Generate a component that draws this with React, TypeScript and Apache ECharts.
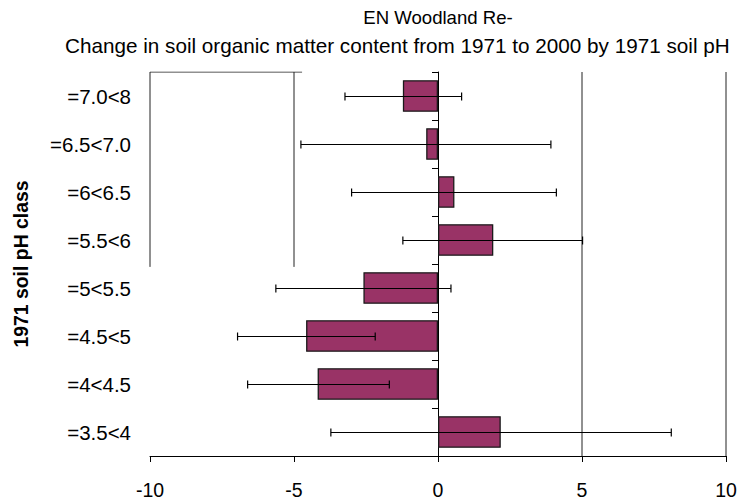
import React, { useEffect, useRef } from "react";
import * as echarts from "echarts";

const categories = ["=3.5<4", "=4<4.5", "=4.5<5", "=5<5.5", "=5.5<6", "=6<6.5", "=6.5<7.0", "=7.0<8"];
const meanChange = [2.18, -4.18, -4.58, -2.59, 1.92, 0.57, -0.41, -1.22];
const lowBound = [-3.72, -6.61, -6.96, -5.63, -1.22, -3.0, -4.76, -3.23];
const highBound = [8.1, -1.69, -2.18, 0.45, 5.02, 4.11, 3.92, 0.82];
const xTicks = [-10, -5, 0, 5, 10];
const titleLine1 = "EN Woodland Re-";
const titleLine2 = "Change in soil organic matter content from 1971 to 2000 by 1971 soil pH";
const yAxisTitle = "1971 soil pH class";

const FONT = "'Liberation Sans', Arial, sans-serif";

export default function App() {
  const ref = useRef<HTMLDivElement>(null);
  useEffect(() => {
    if (!ref.current) return;
    const chart = echarts.init(ref.current, null, { renderer: "svg" });
    const errData = categories.map((_, i) => [lowBound[i], highBound[i], i]);
    const gridLineStyle = { color: "#222", width: 1 };
    const lineSeries = (data: number[][]) => ({
      type: "line",
      xAxisIndex: 0,
      yAxisIndex: 2,
      data,
      symbol: "none",
      silent: true,
      lineStyle: gridLineStyle,
      z: 1,
    });
    chart.setOption({
      animation: false,
      textStyle: { fontFamily: FONT },
      graphic: [
        {
          type: "text",
          x: 438,
          y: 17,
          style: {
            text: titleLine1,
            font: `normal 18.6px ${FONT}`,
            fill: "#000",
            align: "center",
            verticalAlign: "middle",
          },
        },
        {
          type: "text",
          x: 65,
          y: 45,
          style: {
            text: titleLine2,
            font: `normal 20.7px ${FONT}`,
            fill: "#000",
            align: "left",
            verticalAlign: "middle",
          },
        },
      ],
      grid: { left: 150, right: 14, top: 72, bottom: 46, containLabel: false },
      xAxis: {
        type: "value",
        min: -10,
        max: 10,
        interval: 5,
        axisLine: { show: true, onZero: false, lineStyle: { color: "#000", width: 1 } },
        axisTick: { show: true, length: 6, lineStyle: { color: "#000" } },
        axisLabel: {
          color: "#000",
          fontSize: 19.5,
          fontFamily: FONT,
          margin: 24,
          formatter: (v: number) => (xTicks.includes(v) ? String(v) : ""),
        },
        splitLine: { show: false },
      },
      yAxis: [
        {
          type: "category",
          data: categories,
          position: "left",
          axisLine: { show: false, onZero: false },
          axisTick: { show: false },
          axisLabel: { color: "#000", fontSize: 20.5, fontFamily: FONT, margin: 19 },
          name: yAxisTitle,
          nameLocation: "middle",
          nameRotate: 90,
          nameGap: 120,
          nameTextStyle: { color: "#000", fontSize: 19.4, fontWeight: "bold", fontFamily: FONT },
        },
        {
          type: "category",
          data: categories,
          position: "left",
          axisLine: { show: true, onZero: true, lineStyle: { color: "#000", width: 1 } },
          axisTick: { show: true, length: 6, lineStyle: { color: "#000" } },
          axisLabel: { show: false },
        },
        {
          type: "value",
          min: 0,
          max: 8,
          show: false,
        },
      ],
      series: [
        lineSeries([[5, 0], [5, 8]]),
        lineSeries([[10, 0], [10, 8]]),
        lineSeries([[-10, 3.94], [-10, 8], [-4.72, 8]]),
        lineSeries([[-5, 3.94], [-5, 8]]),
        {
          type: "bar",
          xAxisIndex: 0,
          yAxisIndex: 0,
          data: meanChange,
          barCategoryGap: "34%",
          itemStyle: { color: "#993366", borderColor: "#1a1a1a", borderWidth: 1.3 },
          z: 2,
        },
        {
          type: "custom",
          xAxisIndex: 0,
          yAxisIndex: 0,
          data: errData,
          z: 3,
          silent: true,
          renderItem: (params: any, api: any) => {
            const lo = api.coord([api.value(0), api.value(2)]);
            const hi = api.coord([api.value(1), api.value(2)]);
            const y = Math.round(lo[1]) + 0.5;
            const cap = 4;
            const style = { stroke: "#000", lineWidth: 1.2 };
            return {
              type: "group",
              children: [
                { type: "line", shape: { x1: lo[0], y1: y, x2: hi[0], y2: y }, style },
                { type: "line", shape: { x1: lo[0], y1: y - cap, x2: lo[0], y2: y + cap }, style },
                { type: "line", shape: { x1: hi[0], y1: y - cap, x2: hi[0], y2: y + cap }, style },
              ],
            };
          },
          encode: { x: [0, 1], y: 2 },
        },
      ],
    });
    return () => chart.dispose();
  }, []);
  return (
    <div
      ref={ref}
      style={{ position: "fixed", left: 0, top: 0, width: 740, height: 502, background: "#fff" }}
    />
  );
}
